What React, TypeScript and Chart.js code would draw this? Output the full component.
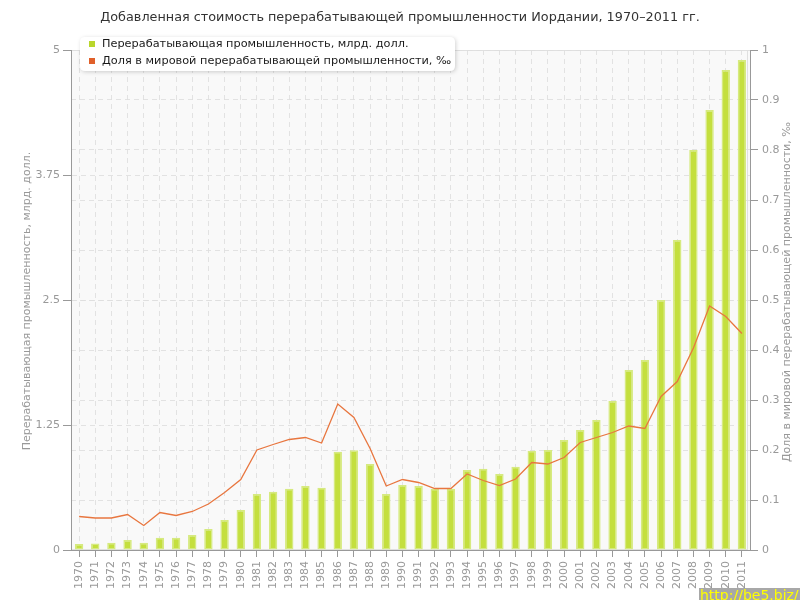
import React, { useEffect, useRef } from "react";
import { Chart, registerables } from "chart.js";

Chart.register(...registerables);

const TITLE = "Добавленная стоимость перерабатывающей промышленности Иордании, 1970–2011 гг.";
const SERIES_BAR_NAME = "Перерабатывающая промышленность, млрд. долл.";
const SERIES_LINE_NAME = "Доля в мировой перерабатывающей промышленности, ‰";
const LEFT_AXIS_TITLE = "Перерабатывающая промышленность, млрд. долл.";
const RIGHT_AXIS_TITLE = "Доля в мировой перерабатывающей промышленности, ‰";
const WATERMARK = "http://be5.biz/";

const years = [
  "1970", "1971", "1972", "1973", "1974", "1975", "1976", "1977", "1978", "1979",
  "1980", "1981", "1982", "1983", "1984", "1985", "1986", "1987", "1988", "1989",
  "1990", "1991", "1992", "1993", "1994", "1995", "1996", "1997", "1998", "1999",
  "2000", "2001", "2002", "2003", "2004", "2005", "2006", "2007", "2008", "2009",
  "2010", "2011",
];

const manufacturingValue = [
  0.06, 0.065, 0.073, 0.10, 0.073, 0.123, 0.123, 0.15, 0.21, 0.30,
  0.40, 0.56, 0.583, 0.613, 0.64, 0.623, 0.983, 0.997, 0.86, 0.56,
  0.65, 0.64, 0.613, 0.613, 0.80, 0.813, 0.76, 0.833, 0.993, 1.0,
  1.10, 1.20, 1.30, 1.49, 1.80, 1.90, 2.50, 3.10, 4.00, 4.40,
  4.80, 4.90,
];

const worldShare = [
  0.067, 0.064, 0.064, 0.071, 0.049, 0.075, 0.069, 0.077, 0.092, 0.115,
  0.141, 0.200, 0.211, 0.221, 0.225, 0.214, 0.292, 0.265, 0.203, 0.128,
  0.141, 0.135, 0.123, 0.123, 0.152, 0.139, 0.129, 0.142, 0.175, 0.172,
  0.185, 0.215, 0.225, 0.235, 0.248, 0.243, 0.307, 0.337, 0.404, 0.488,
  0.467, 0.433,
];

const leftTicks = [0, 1.25, 2.5, 3.75, 5];
const rightTicks = [0, 0.1, 0.2, 0.3, 0.4, 0.5, 0.6, 0.7, 0.8, 0.9, 1];

const FONT = "'DejaVu Sans', Verdana, sans-serif";
const BAR_FILL = "#c4df3e";
const BAR_BORDER = "#d6ea80";
const LINE_COLOR = "#e8763f";
const GRID = "rgba(222,222,222,0.85)";
const AXIS = "#999999";
const TICK_TEXT = "#999999";

const decor = {
  id: "decor",
  beforeDraw(chart: any) {
    const { ctx, chartArea: a } = chart;
    ctx.save();
    ctx.fillStyle = "#ffffff";
    ctx.fillRect(0, 0, chart.width, chart.height);
    ctx.fillStyle = "#f9f9f9";
    ctx.fillRect(a.left, a.top, a.right - a.left, a.bottom - a.top);
    ctx.strokeStyle = "#e0e0e0";
    ctx.lineWidth = 1;
    ctx.strokeRect(a.left + 0.5, a.top + 0.5, a.right - a.left - 3, a.bottom - a.top - 1);
    ctx.restore();
  },
  afterDraw(chart: any) {
    const { ctx, chartArea: a } = chart;
    ctx.save();
    // title
    ctx.fillStyle = "#333333";
    ctx.font = `12.8px ${FONT}`;
    ctx.textAlign = "center";
    ctx.textBaseline = "middle";
    ctx.fillText(TITLE, 400, 18);

    // axis titles
    const midY = (a.top + a.bottom) / 2;
    ctx.fillStyle = "#999999";
    ctx.font = `11px ${FONT}`;
    ctx.save();
    ctx.translate(27, midY + 1);
    ctx.rotate(-Math.PI / 2);
    ctx.fillText(LEFT_AXIS_TITLE, 0, 0);
    ctx.restore();
    ctx.save();
    ctx.translate(787, midY - 8);
    ctx.rotate(-Math.PI / 2);
    ctx.fillText(RIGHT_AXIS_TITLE, 0, 0);
    ctx.restore();

    // legend box
    const bx = 80, by = 37, bw = 375, bh = 34, r = 5;
    ctx.save();
    ctx.shadowColor = "rgba(0,0,0,0.18)";
    ctx.shadowBlur = 4;
    ctx.shadowOffsetX = 1;
    ctx.shadowOffsetY = 1;
    ctx.fillStyle = "#ffffff";
    ctx.beginPath();
    ctx.moveTo(bx + r, by);
    ctx.lineTo(bx + bw - r, by);
    ctx.quadraticCurveTo(bx + bw, by, bx + bw, by + r);
    ctx.lineTo(bx + bw, by + bh - r);
    ctx.quadraticCurveTo(bx + bw, by + bh, bx + bw - r, by + bh);
    ctx.lineTo(bx + r, by + bh);
    ctx.quadraticCurveTo(bx, by + bh, bx, by + bh - r);
    ctx.lineTo(bx, by + r);
    ctx.quadraticCurveTo(bx, by, bx + r, by);
    ctx.closePath();
    ctx.fill();
    ctx.restore();

    ctx.fillStyle = "#b9d62c";
    ctx.fillRect(89, 41, 6, 6);
    ctx.fillStyle = "#e0602a";
    ctx.fillRect(89, 58, 6, 6);
    ctx.fillStyle = "#1a1a1a";
    ctx.font = `11.3px ${FONT}`;
    ctx.textAlign = "left";
    ctx.textBaseline = "middle";
    ctx.fillText(SERIES_BAR_NAME, 102, 44);
    ctx.fillText(SERIES_LINE_NAME, 102, 61);

    // watermark
    ctx.fillStyle = "#a8a8a8";
    ctx.fillRect(699, 588, 101, 12);
    ctx.fillStyle = "#ffff00";
    ctx.font = `14px ${FONT}`;
    ctx.textAlign = "left";
    ctx.textBaseline = "alphabetic";
    ctx.fillText(WATERMARK, 700, 600);
    ctx.restore();
  },
};

export default function App() {
  const canvasRef = useRef<HTMLCanvasElement | null>(null);

  useEffect(() => {
    document.body.style.margin = "0";
    const canvas = canvasRef.current;
    if (!canvas) return;
    const tickFont = { family: FONT, size: 11 };
    const chart = new Chart(canvas, {
      type: "bar",
      data: {
        labels: years,
        datasets: [
          {
            type: "line",
            label: SERIES_LINE_NAME,
            data: worldShare,
            yAxisID: "y1",
            borderColor: LINE_COLOR,
            borderWidth: 1.3,
            pointRadius: 0,
            tension: 0,
            fill: false,
            order: 0,
          } as any,
          {
            type: "bar",
            label: SERIES_BAR_NAME,
            data: manufacturingValue,
            yAxisID: "y",
            backgroundColor: BAR_FILL,
            borderColor: BAR_BORDER,
            borderWidth: 1.5,
            borderSkipped: false,
            barPercentage: 0.52,
            categoryPercentage: 1,
            order: 1,
          },
        ],
      },
      options: {
        responsive: false,
        animation: false,
        layout: { padding: { top: 50, left: 0, right: 0, bottom: 0 } },
        plugins: {
          legend: { display: false },
          title: { display: false },
          tooltip: { enabled: false },
        },
        scales: {
          x: {
            type: "category",
            offset: true,
            z: 1,
            grid: {
              offset: false,
              color: GRID,
              drawOnChartArea: true,
              drawTicks: true,
              tickColor: AXIS,
              tickLength: 7,
            },
            border: { display: true, color: AXIS, dash: [5, 4] },
            ticks: {
              autoSkip: false,
              minRotation: 90,
              maxRotation: 90,
              color: TICK_TEXT,
              font: tickFont,
              padding: 4,
            },
            afterFit: (s: any) => {
              s.height = 50;
            },
          },
          y: {
            type: "linear",
            position: "left",
            min: 0,
            max: 5,
            z: 1,
            afterBuildTicks: (s: any) => {
              s.ticks = leftTicks.map((v) => ({ value: v }));
            },
            grid: { color: GRID, tickColor: AXIS, tickLength: 8 },
            border: { display: true, color: AXIS, dash: [5, 4] },
            ticks: {
              color: TICK_TEXT,
              font: tickFont,
              padding: 3,
              callback: (v: any) => String(v),
            },
            afterFit: (s: any) => {
              s.width = 71;
            },
          },
          y1: {
            type: "linear",
            position: "right",
            min: 0,
            max: 1,
            z: 1,
            afterBuildTicks: (s: any) => {
              s.ticks = rightTicks.map((v) => ({ value: v }));
            },
            grid: { color: GRID, tickColor: AXIS, tickLength: 8 },
            border: { display: true, color: AXIS, dash: [5, 4] },
            ticks: {
              color: TICK_TEXT,
              font: tickFont,
              padding: 4,
              callback: (v: any) => String(v),
            },
            afterFit: (s: any) => {
              s.width = 50;
            },
          },
        },
      } as any,
      plugins: [decor],
    });
    return () => chart.destroy();
  }, []);

  return (
    <div style={{ width: 800, height: 600 }}>
      <canvas ref={canvasRef} width={800} height={600} style={{ display: "block" }} />
    </div>
  );
}
